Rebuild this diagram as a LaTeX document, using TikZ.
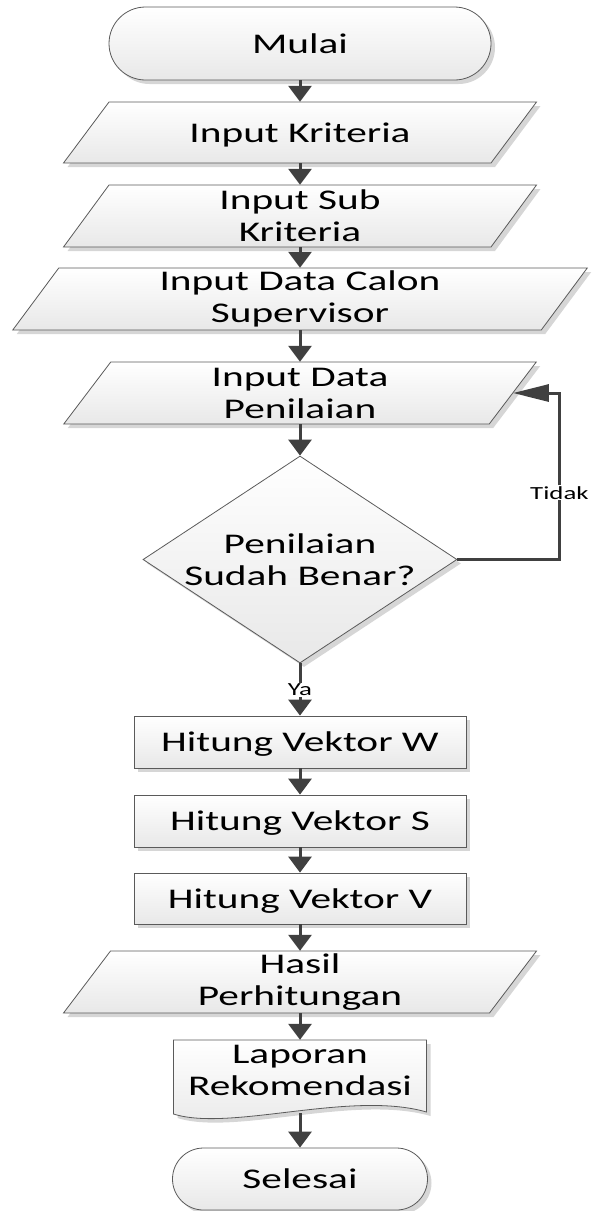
\documentclass[tikz,border=0pt]{standalone}
\usepackage{fontspec}
\setmainfont{Carlito}[FakeStretch=1.45]
\usetikzlibrary{arrows.meta,shapes.misc,shapes.geometric,shadows}
\definecolor{shapeline}{HTML}{5A5A5A}
\definecolor{connline}{HTML}{404040}
\definecolor{shadowcol}{HTML}{D6D6D6}
\definecolor{fillbottom}{HTML}{E8E8E8}
\newcommand\myparal[5]{%
  \path[shp] ({#1-#3+#5},{#2-#4}) -- ({#1+#3+#5},{#2-#4}) -- ({#1+#3-#5},{#2+#4}) -- ({#1-#3-#5},{#2+#4}) -- cycle;}
\begin{document}
\begin{tikzpicture}[x=1pt,y=-1pt,
  shp/.style={draw=shapeline, line width=0.8pt, top color=white, bottom color=fillbottom,
    drop shadow={shadow xshift=4pt, shadow yshift=-4pt, fill=shadowcol, opacity=1}},
  txt/.style={font=\fontsize{28.5}{32}\selectfont, align=center, inner sep=0pt},
  txtone/.style={txt, text depth=0pt},
  conn/.style={draw=connline, line width=3pt, -{Triangle[length=16pt,width=23pt]}},
  fbconn/.style={draw=connline, line width=3pt, -{Triangle[length=36pt,width=17pt]}},
  lbl/.style={font=\fontsize{18.5}{22}\selectfont, fill=white, inner sep=1pt}
]
\useasboundingbox (0,0) rectangle (592,1211);

% terminator start
\node[shp, rounded rectangle, minimum width=382pt, minimum height=73pt, txtone] (start) at (300,43.5) {Mulai};

% parallelograms
\myparal{300}{132.5}{213.75}{30.5}{22.75}
\node[txtone, minimum width=427.5pt, minimum height=61pt] (kri) at (300,132.5) {Input Kriteria};

\myparal{300}{216}{213.75}{31}{22.75}
\node[txt, minimum width=427.5pt, minimum height=62pt] (sub) at (300,216) {Input Sub\\Kriteria};

\myparal{300}{299}{264.25}{31}{23}
\node[txt, minimum width=528.5pt, minimum height=62pt] (cal) at (300,299) {Input Data Calon\\Supervisor};

\myparal{300}{393}{212.75}{31}{23.5}
\node[txt, minimum width=425.5pt, minimum height=62pt] (pen) at (300,393) {Input Data\\Penilaian};

% decision
\node[shp, diamond, minimum width=314pt, minimum height=207pt, inner sep=0pt] (dia) at (300,559.5) {};
\node[txt] (diatext) at (dia.center) {Penilaian\\Sudah Benar?};

% process boxes
\node[shp, rectangle, minimum width=332pt, minimum height=52pt, txtone] (vw) at (300,742) {Hitung Vektor W};
\node[shp, rectangle, minimum width=332pt, minimum height=52pt, txtone] (vs) at (300,821) {Hitung Vektor S};
\node[shp, rectangle, minimum width=332pt, minimum height=51pt, txtone] (vv) at (300,898.5) {Hitung Vektor V};

% output
\myparal{300}{982}{213}{31}{23.5}
\node[txt, minimum width=426pt, minimum height=62pt] (has) at (300,982) {Hasil\\Perhitungan};

% document
\path[shp] (173.5,1040) -- (426.5,1040) -- (426.5,1112)
  .. controls (350.5,1090) and (230.5,1132) .. (173.5,1114) -- cycle;
\node[txt] (lap) at (300,1076.5)
  {\parbox[c][73pt][t]{253pt}{\centering\vspace*{5pt}Laporan\\Rekomendasi}};

% terminator end
\node[shp, rounded rectangle, minimum width=255pt, minimum height=62pt, txtone] (sel) at (300,1179) {Selesai};

% connectors
\draw[conn] (start.south) -- (kri.north);
\draw[conn] (kri.south) -- (sub.north);
\draw[conn] (sub.south) -- (cal.north);
\draw[conn] (cal.south) -- (pen.north);
\draw[conn] (pen.south) -- (dia.north);
\draw[conn] (dia.south) -- node[lbl] {Ya} (vw.north);
\draw[conn] (vw.south) -- (vs.north);
\draw[conn] (vs.south) -- (vv.north);
\draw[conn] (vv.south) -- (has.north);
\draw[conn] (has.south) -- (lap.north);
\draw[conn] (lap.south) -- (sel.north);
\draw[fbconn] (dia.east) -- ++(102,0) |- node[lbl, pos=0.2] {Tidak} (pen.east);
\end{tikzpicture}
\end{document}
